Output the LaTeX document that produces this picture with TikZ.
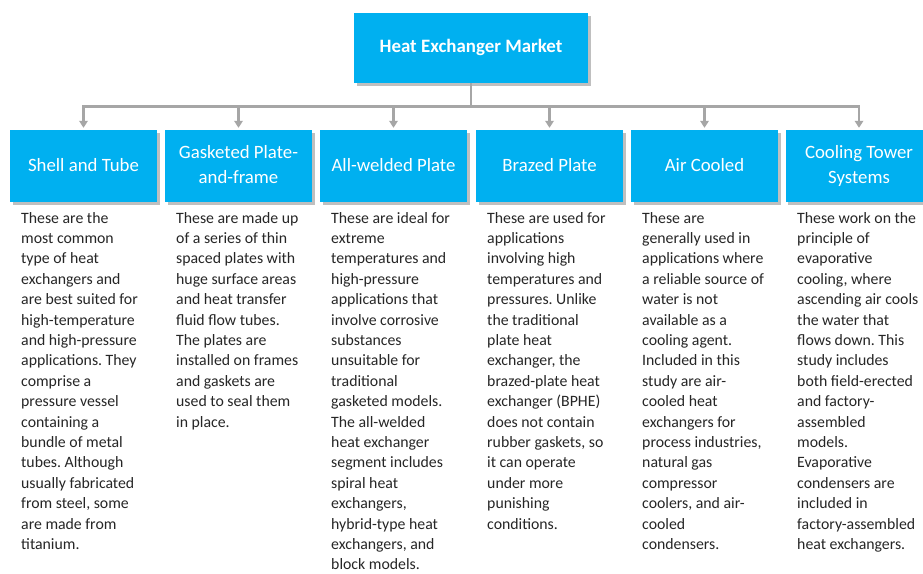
\documentclass[tikz,border=0pt]{standalone}
\usepackage{fontspec}
\setmainfont{Carlito}
\frenchspacing
\usetikzlibrary{arrows.meta,shadows}
\definecolor{boxblue}{HTML}{00B0F0}
\definecolor{linegrey}{HTML}{A6A6A6}
\definecolor{bodytext}{HTML}{262626}
\newcommand\bodyfont{\fontsize{15.8}{20.4}\selectfont}
\newcommand\coltext[1]{\begin{tabular}[t]{@{}l@{}}#1\end{tabular}}
\newcommand\ttl[2][3pt]{\raisebox{#1}{\begin{tabular}{@{}c@{}}#2\end{tabular}}}
\tikzset{
  bluebox/.style={fill=boxblue, draw=none, minimum width=147pt, minimum height=72pt,
    inner sep=0pt, text=white, align=center,
    drop shadow={shadow xshift=2.5pt, shadow yshift=-2.5pt, opacity=0.45, fill=black!55}},
  toptitle/.style={bluebox, minimum width=234pt, minimum height=70pt,
    font=\fontsize{18.9}{23}\selectfont\bfseries},
  childtitle/.style={bluebox, font=\fontsize{18.8}{25}\selectfont},
  desc/.style={anchor=base west, inner sep=0pt, text=bodytext, font=\bodyfont},
  conn/.style={draw=linegrey, line width=2.6pt, line join=miter},
  arr/.style={conn, -{Triangle[width=8.5pt,length=7pt]}, shorten >=2pt}
}
\begin{document}
\begin{tikzpicture}[x=1pt,y=-1pt]
\clip (0,0) rectangle (923,573);
\fill[white] (0,0) rectangle (923,573);

\node[toptitle] (top) at (471,48) {\ttl[1.5pt]{Heat Exchanger Market}};

\node[childtitle] (c1) at (83.5,166) {\ttl{Shell and Tube}};
\node[childtitle] (c2) at (238.5,166) {\ttl[1pt]{Gasketed Plate-\\and-frame}};
\node[childtitle] (c3) at (393.5,166) {\ttl{All-welded Plate}};
\node[childtitle] (c4) at (549.5,166) {\ttl{Brazed Plate}};
\node[childtitle] (c5) at (704.5,166) {\ttl{Air Cooled}};
\node[childtitle] (c6) at (859,166) {\ttl[1pt]{Cooling Tower\\Systems}};

\draw[conn] (top.south) -- ++(0,23) coordinate (hub);
\foreach \c in {c1,c2,c3,c4,c5,c6}{
  \draw[arr] (hub) -| (\c.north);
}

\node[desc] (t1) at (21,223) {\coltext{These are the\\most common\\type of heat\\exchangers and\\are best suited for\\high-temperature\\and high-pressure\\applications. They\\comprise a\\pressure vessel\\containing a\\bundle of metal\\tubes. Although\\usually fabricated\\from steel, some\\are made from\\titanium.}};
\node[desc] (t2) at (176,223) {\coltext{These are made up\\of a series of thin\\spaced plates with\\huge surface areas\\and heat transfer\\fluid flow tubes.\\The plates are\\installed on frames\\and gaskets are\\used to seal them\\in place.}};
\node[desc] (t3) at (331,223) {\coltext{These are ideal for\\extreme\\temperatures and\\high-pressure\\applications that\\involve corrosive\\substances\\unsuitable for\\traditional\\gasketed models.\\The all-welded\\heat exchanger\\segment includes\\spiral heat\\exchangers,\\hybrid-type heat\\exchangers, and\\block models.}};
\node[desc] (t4) at (487,223) {\coltext{These are used for\\applications\\involving high\\temperatures and\\pressures. Unlike\\the traditional\\plate heat\\exchanger, the\\brazed-plate heat\\exchanger (BPHE)\\does not contain\\rubber gaskets, so\\it can operate\\under more\\punishing\\conditions.}};
\node[desc] (t5) at (642,223) {\coltext{These are\\generally used in\\applications where\\a reliable source of\\water is not\\available as a\\cooling agent.\\Included in this\\study are air-\\cooled heat\\exchangers for\\process industries,\\natural gas\\compressor\\coolers, and air-\\cooled\\condensers.}};
\node[desc] (t6) at (797,223) {\coltext{These work on the\\principle of\\evaporative\\cooling, where\\ascending air cools\\the water that\\flows down. This\\study includes\\both field-erected\\and factory-\\assembled\\models.\\Evaporative\\condensers are\\included in\\factory-assembled\\heat exchangers.}};
\end{tikzpicture}
\end{document}
